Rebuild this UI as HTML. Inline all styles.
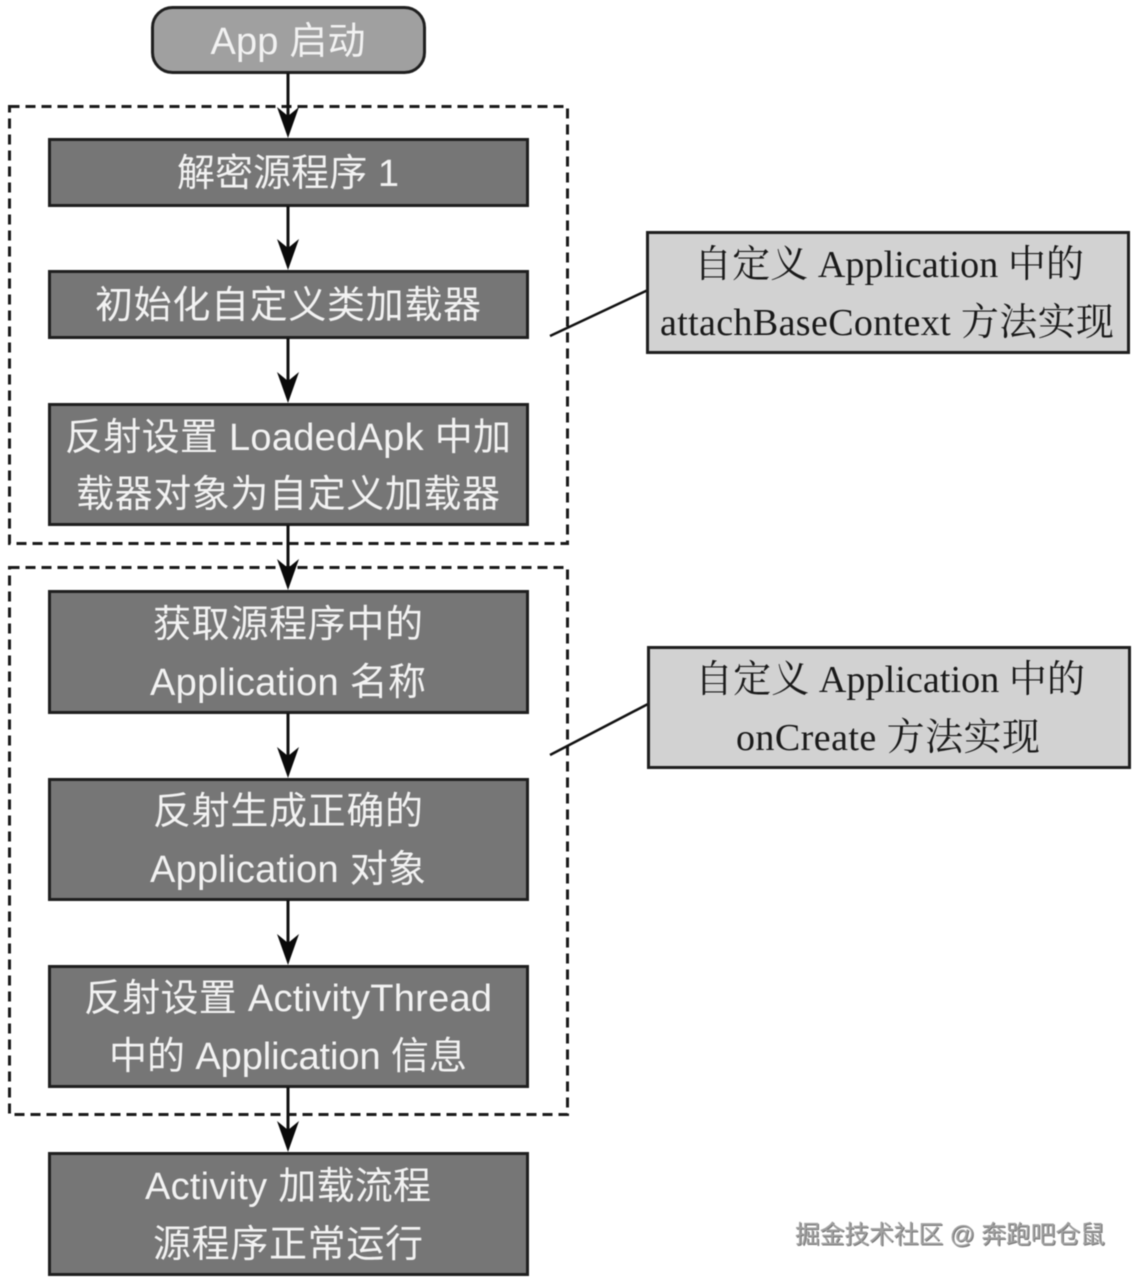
<!DOCTYPE html>
<html><head><meta charset="utf-8">
<style>
html,body{margin:0;padding:0;background:#fff}
svg{display:block;filter:blur(.4px)}
text{text-anchor:middle}
.w{font-family:"Liberation Sans","Noto Sans CJK SC",sans-serif;font-size:38px;fill:#f2f2f2}
.k{font-family:"Liberation Serif","Noto Serif CJK SC",serif;font-size:38px;fill:#1a1a1a}
.m{font-family:"Liberation Sans","Noto Sans CJK SC",sans-serif;font-size:25px;fill:#a0a0a0;filter:drop-shadow(1px 1px 0 #777)}
.b{fill:#767676;stroke:#1f1f1f;stroke-width:3}
.c{fill:#d2d2d2;stroke:#1f1f1f;stroke-width:3}
.d{fill:none;stroke:#1a1a1a;stroke-width:3;stroke-dasharray:10 6}
.l{stroke:#111;stroke-width:3;fill:none}
.a{fill:#0a0a0a}
</style></head>
<body>
<svg width="1137" height="1280" viewBox="0 0 1137 1280" xmlns="http://www.w3.org/2000/svg">
<rect width="1137" height="1280" fill="#fff"/>
<rect class="d" x="9.5" y="106.5" width="558" height="437"/>
<rect class="d" x="9.5" y="567.5" width="558" height="547"/>

<rect x="152.5" y="7.5" width="272" height="65" rx="20" fill="#a0a0a0" stroke="#1f1f1f" stroke-width="3"/>
<rect class="b" x="49.5" y="139.5" width="478" height="66"/>
<rect class="b" x="49.5" y="271.5" width="478" height="66"/>
<rect class="b" x="49.5" y="404.5" width="478" height="120"/>
<rect class="b" x="49.5" y="591.5" width="478" height="121"/>
<rect class="b" x="49.5" y="779.5" width="478" height="120"/>
<rect class="b" x="49.5" y="966.5" width="478" height="120"/>
<rect class="b" x="49.5" y="1153.5" width="478" height="121"/>

<path class="l" d="M288 73V120M288 206V250M288 338V383M288 525V570M288 713V758M288 900V945M288 1087V1132"/>
<g class="a">
<path d="M277 107L288 116L299 107L288 138Z"/>
<path d="M277 239L288 248L299 239L288 270Z"/>
<path d="M277 372L288 381L299 372L288 403Z"/>
<path d="M277 559L288 568L299 559L288 590Z"/>
<path d="M277 747L288 756L299 747L288 778Z"/>
<path d="M277 934L288 943L299 934L288 965Z"/>
<path d="M277 1121L288 1130L299 1121L288 1152Z"/>
</g>

<path d="M550 336L648 290M550 755L648 704" stroke="#111" stroke-width="2.5" fill="none"/>
<rect class="c" x="647.5" y="232.5" width="481" height="120"/>
<rect class="c" x="648.5" y="647.5" width="481" height="120"/>

<text class="w" x="288" y="54" textLength="155" lengthAdjust="spacing">App 启动</text>
<text class="w" x="288" y="186" textLength="222" lengthAdjust="spacing">解密源程序 1</text>
<text class="w" x="288" y="318" textLength="386" lengthAdjust="spacing">初始化自定义类加载器</text>
<text class="w" x="288" y="450" textLength="446" lengthAdjust="spacing">反射设置 LoadedApk 中加</text>
<text class="w" x="288" y="507" textLength="424" lengthAdjust="spacing">载器对象为自定义加载器</text>
<text class="w" x="288" y="637" textLength="270" lengthAdjust="spacing">获取源程序中的</text>
<text class="w" x="288" y="695" textLength="276" lengthAdjust="spacing">Application 名称</text>
<text class="w" x="288" y="824" textLength="270" lengthAdjust="spacing">反射生成正确的</text>
<text class="w" x="288" y="882" textLength="276" lengthAdjust="spacing">Application 对象</text>
<text class="w" x="288" y="1011" textLength="408" lengthAdjust="spacing">反射设置 ActivityThread</text>
<text class="w" x="288" y="1069" textLength="358" lengthAdjust="spacing">中的 Application 信息</text>
<text class="w" x="288" y="1199" textLength="286" lengthAdjust="spacing">Activity 加载流程</text>
<text class="w" x="288" y="1257" textLength="270" lengthAdjust="spacing">源程序正常运行</text>

<text class="k" x="889" y="277" textLength="390" lengthAdjust="spacing">自定义 Application 中的</text>
<text class="k" x="887" y="335" textLength="454" lengthAdjust="spacing">attachBaseContext 方法实现</text>
<text class="k" x="890" y="692" textLength="390" lengthAdjust="spacing">自定义 Application 中的</text>
<text class="k" x="888" y="750" textLength="304" lengthAdjust="spacing">onCreate 方法实现</text>

<text class="m" x="950" y="1243" textLength="310" lengthAdjust="spacing">掘金技术社区 @ 奔跑吧仓鼠</text>
</svg>
</body></html>
